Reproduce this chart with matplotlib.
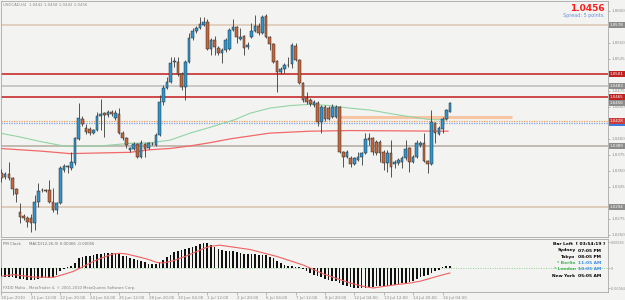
import numpy as np
import matplotlib
matplotlib.use("Agg")
import matplotlib.pyplot as plt
import matplotlib.transforms as mtransforms
from matplotlib.patches import Rectangle

W, H = 625, 300

symbol_line = "USDCAD,H4  1.0442 1.0458 1.0442 1.0456"
bid_text = "1.0456"
spread_text = "Spread: 5 points."
macd_header = "MACD(12,26,9) 0.00066 -0.00056"
clock_header = "PM Clock"
footer = "FXDD Malta - MetaTrader 4, \u00a9 2001-2010 MetaQuotes Software Corp."

opens = [1.0347, 1.0340, 1.0345, 1.0339, 1.0322, 1.0286, 1.0280, 1.0276, 1.0276, 1.0269,
         1.0301, 1.0320, 1.0320, 1.0320, 1.0301, 1.0289, 1.0300, 1.0351, 1.0357, 1.0354,
         1.0362, 1.0400, 1.0431, 1.0417, 1.0415, 1.0409, 1.0414, 1.0436, 1.0440, 1.0437,
         1.0442, 1.0433, 1.0439, 1.0409, 1.0401, 1.0383, 1.0384, 1.0392, 1.0372, 1.0392,
         1.0386, 1.0392, 1.0390, 1.0406, 1.0458, 1.0479, 1.0489, 1.0520, 1.0520, 1.0501,
         1.0481, 1.0520, 1.0558, 1.0569, 1.0573, 1.0578, 1.0583, 1.0540, 1.0555, 1.0542,
         1.0534, 1.0539, 1.0540, 1.0570, 1.0575, 1.0556, 1.0561, 1.0544, 1.0559, 1.0569,
         1.0576, 1.0565, 1.0592, 1.0559, 1.0548, 1.0522, 1.0505, 1.0509, 1.0515, 1.0517,
         1.0545, 1.0523, 1.0487, 1.0464, 1.0461, 1.0453, 1.0456, 1.0426, 1.0450, 1.0448,
         1.0434, 1.0434, 1.0450, 1.0380, 1.0372, 1.0370, 1.0361, 1.0367, 1.0372, 1.0378,
         1.0401, 1.0401, 1.0395, 1.0395, 1.0380, 1.0362, 1.0378, 1.0361, 1.0362, 1.0364,
         1.0370, 1.0386, 1.0364, 1.0372, 1.0390, 1.0394, 1.0365, 1.0361, 1.0425, 1.0408,
         1.0415, 1.0431, 1.0442]
highs = [1.0353, 1.0348, 1.0364, 1.0340, 1.0323, 1.0300, 1.0283, 1.0280, 1.0283, 1.0312,
         1.0331, 1.0323, 1.0322, 1.0336, 1.0323, 1.0301, 1.0358, 1.0361, 1.0359, 1.0380,
         1.0403, 1.0456, 1.0436, 1.0423, 1.0418, 1.0415, 1.0442, 1.0462, 1.0442, 1.0445,
         1.0445, 1.0445, 1.0448, 1.0412, 1.0403, 1.0387, 1.0395, 1.0394, 1.0398, 1.0394,
         1.0395, 1.0395, 1.0409, 1.0469, 1.0484, 1.0497, 1.0528, 1.0528, 1.0528, 1.0505,
         1.0523, 1.0565, 1.0573, 1.0576, 1.0590, 1.0590, 1.0587, 1.0558, 1.0561, 1.0545,
         1.0542, 1.0558, 1.0573, 1.0587, 1.0576, 1.0573, 1.0562, 1.0551, 1.0581, 1.0594,
         1.0581, 1.0594, 1.0595, 1.0561, 1.0550, 1.0523, 1.0512, 1.0519, 1.0528, 1.0550,
         1.0550, 1.0525, 1.0489, 1.0473, 1.0464, 1.0461, 1.0459, 1.0453, 1.0453, 1.0451,
         1.0455, 1.0453, 1.0451, 1.0381, 1.0383, 1.0373, 1.0372, 1.0380, 1.0380, 1.0409,
         1.0409, 1.0403, 1.0398, 1.0398, 1.0383, 1.0383, 1.0398, 1.0367, 1.0370, 1.0373,
         1.0398, 1.0387, 1.0375, 1.0398, 1.0397, 1.0409, 1.0367, 1.0445, 1.0426, 1.0420,
         1.0434, 1.0447, 1.0458]
lows = [1.0333, 1.0337, 1.0336, 1.0312, 1.0301, 1.0269, 1.0273, 1.0262, 1.0255, 1.0258,
        1.0294, 1.0317, 1.0317, 1.0300, 1.0286, 1.0283, 1.0298, 1.0348, 1.0347, 1.0351,
        1.0359, 1.0398, 1.0420, 1.0408, 1.0406, 1.0408, 1.0412, 1.0414, 1.0403, 1.0434,
        1.0436, 1.0430, 1.0408, 1.0398, 1.0386, 1.0380, 1.0383, 1.0370, 1.0370, 1.0372,
        1.0384, 1.0390, 1.0389, 1.0404, 1.0453, 1.0478, 1.0487, 1.0512, 1.0498, 1.0476,
        1.0461, 1.0519, 1.0555, 1.0565, 1.0572, 1.0576, 1.0539, 1.0531, 1.0531, 1.0531,
        1.0519, 1.0536, 1.0539, 1.0569, 1.0550, 1.0555, 1.0531, 1.0540, 1.0558, 1.0567,
        1.0562, 1.0564, 1.0558, 1.0539, 1.0519, 1.0473, 1.0501, 1.0503, 1.0512, 1.0511,
        1.0522, 1.0486, 1.0458, 1.0455, 1.0452, 1.0450, 1.0420, 1.0409, 1.0428, 1.0430,
        1.0433, 1.0433, 1.0378, 1.0356, 1.0370, 1.0356, 1.0359, 1.0365, 1.0359, 1.0376,
        1.0390, 1.0375, 1.0375, 1.0364, 1.0351, 1.0348, 1.0340, 1.0354, 1.0359, 1.0354,
        1.0367, 1.0348, 1.0362, 1.0370, 1.0387, 1.0364, 1.0347, 1.0359, 1.0394, 1.0406,
        1.0409, 1.0430, 1.0442]
closes = [1.0339, 1.0345, 1.0339, 1.0322, 1.0314, 1.0278, 1.0276, 1.0270, 1.0269, 1.0301,
          1.0319, 1.0320, 1.0319, 1.0301, 1.0289, 1.0300, 1.0354, 1.0358, 1.0356, 1.0364,
          1.0401, 1.0433, 1.0423, 1.0411, 1.0409, 1.0414, 1.0436, 1.0439, 1.0437, 1.0442,
          1.0439, 1.0440, 1.0409, 1.0401, 1.0390, 1.0386, 1.0392, 1.0372, 1.0394, 1.0384,
          1.0394, 1.0392, 1.0406, 1.0458, 1.0479, 1.0489, 1.0519, 1.0521, 1.0501, 1.0481,
          1.0520, 1.0558, 1.0569, 1.0573, 1.0580, 1.0583, 1.0540, 1.0555, 1.0544, 1.0534,
          1.0539, 1.0555, 1.0570, 1.0575, 1.0559, 1.0559, 1.0542, 1.0547, 1.0569, 1.0576,
          1.0565, 1.0590, 1.0559, 1.0548, 1.0520, 1.0505, 1.0509, 1.0515, 1.0515, 1.0547,
          1.0523, 1.0487, 1.0461, 1.0458, 1.0455, 1.0458, 1.0426, 1.0450, 1.0431, 1.0431,
          1.0450, 1.0450, 1.0380, 1.0372, 1.0380, 1.0361, 1.0370, 1.0372, 1.0378, 1.0400,
          1.0398, 1.0380, 1.0378, 1.0378, 1.0362, 1.0378, 1.0356, 1.0364, 1.0367, 1.0370,
          1.0384, 1.0364, 1.0372, 1.0394, 1.0394, 1.0365, 1.0361, 1.0426, 1.0409, 1.0417,
          1.0431, 1.0445, 1.0456]

# MACD histogram, in units of 0.00001
macd_hist = [-27, -28, -29, -30, -32, -34, -36, -37, -38, -37,
             -35, -33, -32, -31, -28, -21, -11, -3, 2, 5,
             16, 32, 35, 37, 39, 43, 45, 46, 47, 47,
             47, 47, 45, 39, 37, 32, 29, 25, 21, 18,
             14, 13, 12, 19, 27, 34, 43, 51, 55, 59,
             61, 64, 66, 69, 78, 80, 79, 73, 68, 62,
             59, 55, 53, 53, 51, 48, 46, 45, 45, 44,
             43, 41, 41, 36, 32, 23, 16, 11, 6, 6,
             4, 2, -2, -11, -16, -21, -27, -30, -34, -37,
             -41, -43, -48, -53, -57, -61, -64, -64, -64, -64,
             -62, -60, -59, -58, -57, -57, -55, -53, -51, -49,
             -48, -45, -41, -35, -29, -26, -21, -16, -11, -5,
             2, 5, 8]
signal_bars = [-0.4, 3.2, 8.7, 14.1, 16.8, 19.5, 22.3, 25, 27.7, 30.4, 32.2, 34, 36.8,
               39.5, 42.2, 44, 46.7, 49.5, 52.2, 54.9, 56.7, 59.4, 63, 67.7, 71.3, 74.9,
               78.6, 82.2, 84.9, 87.6, 91.3, 94.9, 98.5, 101.2, 103.9, 107.6, 111.2, 114,
               116.1, 119.7, 122]
signal_vals = [-27, -21, -29, -30, -21, -11, 5, 21, 34, 45, 47, 45, 37,
               29, 18, 16, 23, 35, 48, 62, 69, 73, 67, 59, 48, 37,
               23, 9, -5, -19, -34, -48, -59, -64, -59, -53, -48, -42,
               -35, -23, -16]

green_bars = [-0.4, 5, 10.5, 15.9, 18.6, 26.8, 35, 40.4, 45.9, 51.3, 56.7, 63.5, 67.6,
              73, 78.5, 84, 89.4, 94.8, 100.3, 108.4, 116.6, 121.2]
green_ma = [1.0409, 1.0403, 1.0396, 1.0390, 1.0388, 1.0389, 1.0393, 1.0394, 1.0398, 1.0409,
            1.0418, 1.0430, 1.0440, 1.0448, 1.0452, 1.0454, 1.0452, 1.0448, 1.0445, 1.0437,
            1.0430, 1.0430]
red_bars = [-0.4, 5, 10.5, 18.6, 26.8, 35, 40.4, 45.9, 51.3, 56.7, 62.2, 73, 84, 94.8, 121.5]
red_ma = [1.0385, 1.0383, 1.0381, 1.0377, 1.0378, 1.0379, 1.0383, 1.0385, 1.0389, 1.0394,
          1.0400, 1.0409, 1.0412, 1.0413, 1.0412]

levels = [1.0578, 1.0501, 1.0483, 1.0465, 1.0389, 1.0294]
level_colors = ["#dcc4b0", "#c41c1c", "#bdbdbd", "#c41c1c", "#b4aa9f", "#d9c2ad"]
level_box = ["#8c8c8c", "#c02222", "#8c8c8c", "#c02222", "#8c8c8c", "#8c8c8c"]
order_level = 1.0428
stop_level = 1.0425
zone_price = 1.0434
zone_bars = [92, 139]

# ticks hidden behind the level boxes are left out, as on the reference
price_ticks = [1.0600, 1.0550, 1.0525, 1.0475, 1.0450,
               1.0400, 1.0375, 1.0350, 1.0325, 1.0275, 1.0250]
time_ticks = [0, 8, 16, 24, 32, 40, 48, 56, 64, 72, 80, 88, 96, 104, 112, 120]
time_labels = ["18 Jun 2010", "21 Jun 12:00", "22 Jun 20:00", "24 Jun 04:00",
               "25 Jun 12:00", "28 Jun 20:00", "30 Jun 04:00", "1 Jul 12:00",
               "2 Jul 20:00", "6 Jul 04:00", "7 Jul 12:00", "8 Jul 20:00",
               "12 Jul 04:00", "13 Jul 12:00", "14 Jul 20:00", "16 Jul 04:00"]
macd_ticks = [0.00083, 0.0, -0.00064]
macd_tick_labels = ["0.00083", "0", "-0.00064"]

bar_left = "Bar Left  [ 03:54:19 ]"
cities = ["Sydney", "Tokyo", "* Berlin", "* London", "New York"]
city_times = ["07:05 PM", "08:05 PM", "11:05 AM", "10:05 AM", "05:05 AM"]
city_colors = ["#000000", "#000000", "#3cb050", "#3cb050", "#000000"]
time_colors = ["#000000", "#000000", "#3a8ee8", "#3a8ee8", "#000000"]

bg = "#f3f4f1"
fig = plt.figure(figsize=(W / 100, H / 100), dpi=100)
fig.patch.set_facecolor(bg)

ax = fig.add_axes([1 / W, 63 / H, 607 / W, 236 / H])
ax.set_facecolor(bg)
ax.set_xlim(-0.136, 165.03)
ax.set_ylim(1.02467, 1.06154)
for s in ax.spines.values():
    s.set_color("#a8a8a8")
    s.set_linewidth(0.6)
ax.set_xticks([])
ax.yaxis.tick_right()
ax.set_yticks(price_ticks)
ax.set_yticklabels(["%.4f" % p for p in price_ticks])
ax.tick_params(axis="y", labelsize=2.9, colors="#8a8a8a", length=1.5, width=0.4, pad=1)

for p, c in zip(levels, level_colors):
    ax.axhline(p, color=c, lw=1.1, zorder=1)
ax.axhline(order_level, color="#f0a060", lw=0.9, ls=(0, (1, 1)), zorder=1)
ax.axhline(stop_level, color="#7fa0e6", lw=0.9, ls=(0, (1, 1)), zorder=1)
ax.plot(zone_bars, [zone_price, zone_price], color="#f6c5a3", lw=2.2,
        solid_capstyle="butt", zorder=1)

ax.plot(green_bars, green_ma, color="#93d3a6", lw=0.8, zorder=2)
ax.plot(red_bars, red_ma, color="#f26868", lw=0.9, zorder=2)

x = np.arange(len(opens))
o = np.array(opens)
c = np.array(closes)
ax.vlines(x, lows, highs, color="#3a3a3a", lw=0.6, zorder=3)
body_bottom = np.minimum(o, c)
body_h = np.maximum(np.abs(c - o), 0.00004)
body_col = np.where(c >= o, "#2f95d0", "#c4673d")
ax.bar(x, body_h, bottom=body_bottom, width=0.72, color=body_col,
       edgecolor="#2a2a2a", linewidth=0.35, zorder=4)

trans = mtransforms.blended_transform_factory(ax.transAxes, ax.transData)
# blue box of the stop level peeks out under the red order box
ax.add_patch(Rectangle((1.002, stop_level - 0.0005), 0.03, 0.0008, transform=trans,
                       facecolor="#3a7ee0", edgecolor="none", clip_on=False, zorder=5))
box_prices = levels + [order_level, closes[-1]]
box_cols = level_box + ["#cc3a3a", "#8c8c8c"]
for p, bc in zip(box_prices, box_cols):
    ax.text(1.003, p, "%.4f" % p, transform=trans, fontsize=2.9, color="white",
            ha="left", va="center", clip_on=False, zorder=6,
            bbox=dict(boxstyle="square,pad=0.25", fc=bc, ec="none"))

ax2 = fig.add_axes([1 / W, 8 / H, 607 / W, 53 / H])
ax2.set_facecolor(bg)
ax2.set_xlim(-0.136, 165.03)
ax2.set_ylim(-0.000768, 0.000928)
for s in ax2.spines.values():
    s.set_color("#a8a8a8")
    s.set_linewidth(0.6)
ax2.axhline(0, color="#8fd08f", lw=0.7, ls=(0, (1, 1.5)), zorder=1)
ax2.bar(x, np.array(macd_hist) * 1e-5, width=0.45, color="#111111", zorder=3)
ax2.plot(signal_bars, np.array(signal_vals) * 1e-5, color="#f26060", lw=0.8, zorder=4)
ax2.yaxis.tick_right()
ax2.set_yticks(macd_ticks)
ax2.set_yticklabels(macd_tick_labels)
ax2.tick_params(axis="y", labelsize=2.3, colors="#8a8a8a", length=1.5, width=0.4, pad=0.6)
ax2.set_xticks(time_ticks)
ax2.set_xticklabels(time_labels, ha="left")
ax2.tick_params(axis="x", labelsize=2.9, colors="#8a8a8a", length=2, width=0.4, pad=0.8)

def ftext(px, py, s, **kw):
    fig.text(px / W, 1 - py / H, s, va="center", **kw)

ftext(3, 5, symbol_line, fontsize=2.8, color="#8a8a8a")
ftext(605, 8.5, bid_text, fontsize=6.5, color="#ff1a1a", ha="right", fontweight="bold")
ftext(605, 15.5, spread_text, fontsize=3.5, color="#6a8fd8", ha="right")
ftext(3, 244, clock_header, fontsize=2.8, color="#707070")
ftext(29, 244, macd_header, fontsize=2.8, color="#707070")
ftext(3, 288, footer, fontsize=2.7, color="#808080")
ftext(605, 244.3, bar_left, fontsize=3.2, color="#000000", ha="right", fontweight="bold")
for k in range(len(cities)):
    yy = 250.5 + 6.3 * k
    ftext(575.5, yy, cities[k], fontsize=3.2, color=city_colors[k], ha="right", fontweight="bold")
    ftext(577.5, yy, city_times[k], fontsize=3.2, color=time_colors[k], ha="left", fontweight="bold")

fig.savefig("out.png", dpi=100, facecolor=fig.get_facecolor())
